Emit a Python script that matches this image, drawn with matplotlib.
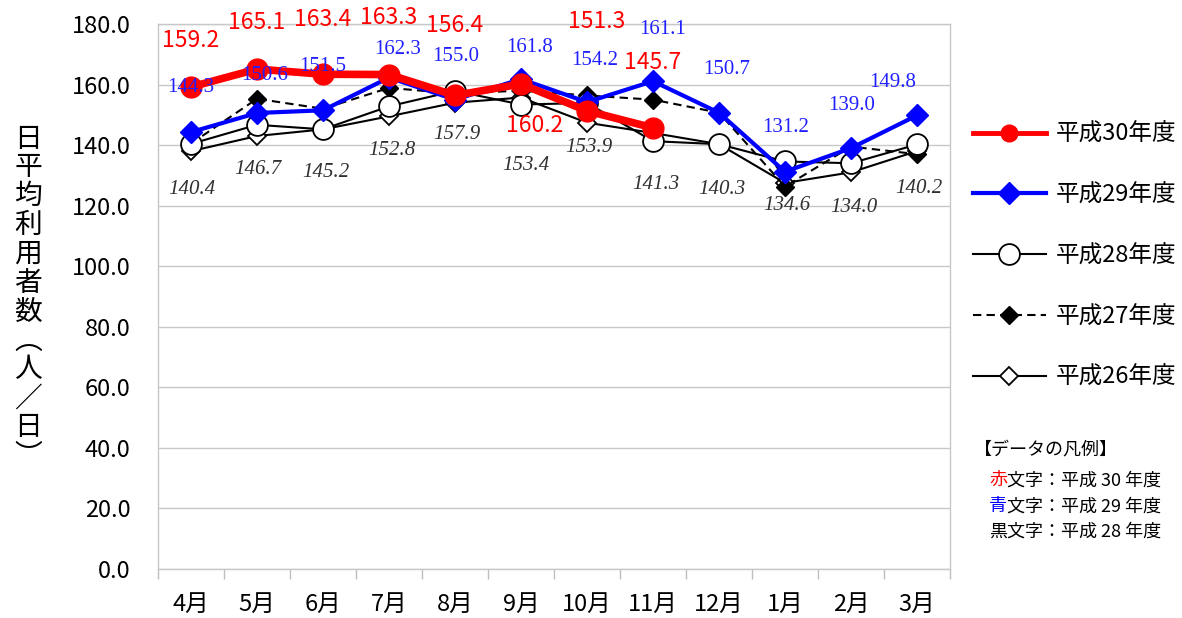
import matplotlib
matplotlib.use("Agg")
import matplotlib.pyplot as plt
from matplotlib.ticker import MultipleLocator, FixedLocator

plt.rcParams["font.family"] = ["Noto Sans CJK JP", "DejaVu Sans"]

months = ["4月", "5月", "6月", "7月", "8月", "9月", "10月", "11月", "12月", "1月", "2月", "3月"]
h30 = [159.2, 165.1, 163.4, 163.3, 156.4, 160.2, 151.3, 145.7]
h29 = [144.3, 150.6, 151.5, 162.3, 155.0, 161.8, 154.2, 161.1, 150.7, 131.2, 139.0, 149.8]
h28 = [140.4, 146.7, 145.2, 152.8, 157.9, 153.4, 153.9, 141.3, 140.3, 134.6, 134.0, 140.2]
h27 = [140.5, 155.3, 152.0, 158.9, 157.0, 158.0, 156.4, 155.0, 150.7, 126.3, 139.5, 137.0]
h26 = [138.0, 143.0, 145.2, 149.5, 154.0, 155.7, 147.4, 144.0, 140.3, 127.5, 131.0, 138.0]

# label offsets in pixels (dx, dy)
red_off = [(0, 46), (0, 47), (0, 55), (0, 57), (0, 70), (14, -42), (10, 89), (0, 65)]
blue_off = [(0, 45), (8, 37), (0, 44), (9, 28), (1, 43), (9, 32), (8, 42), (10, 52),
            (8, 43), (1, 44), (1, 43), (-24, 33)]
black_off = [(1, -46), (1, -45), (3, -43), (3, -44), (2, -44), (5, -61), (2, -44),
             (3, -43), (3, -45), (2, -44), (3, -44), (2, -44)]

fig = plt.figure(figsize=(11.82, 6.18), dpi=100)
ax = fig.add_axes([0.1337, 0.0793, 0.67, 0.8819])

x = list(range(len(months)))

l26, = ax.plot(x, h26, color="black", lw=1.5, marker="D", ms=9, mfc="white",
               mec="black", mew=1.3, zorder=2, label="平成26年度")
l27, = ax.plot(x, h27, color="black", lw=1.5, ls=(0, (4, 2.5)), marker="D", ms=9,
               mfc="black", mec="black", zorder=3, label="平成27年度")
l28, = ax.plot(x, h28, color="black", lw=1.5, marker="o", ms=15, mfc="white",
               mec="black", mew=1.3, zorder=4, label="平成28年度")
l29, = ax.plot(x, h29, color="#0000ff", lw=3, marker="D", ms=11, mfc="#0000ff",
               mec="#0000ff", zorder=5, label="平成29年度")
l30, = ax.plot(x[:len(h30)], h30, color="#ff0000", lw=5.5, marker="o", ms=15,
               mfc="#ff0000", mec="#ff0000", zorder=6, label="平成30年度")

for i, v in enumerate(h30):
    ax.annotate(f"{v:.1f}", (i, v), xytext=red_off[i], textcoords="offset pixels",
                ha="center", va="center", color="#ff0000", fontsize=16.5, zorder=10)
for i, v in enumerate(h29):
    ax.annotate(f"{v:.1f}", (i, v), xytext=blue_off[i], textcoords="offset pixels",
                ha="center", va="center", color="#2020ff", fontsize=15,
                family="Liberation Serif", zorder=10)
for i, v in enumerate(h28):
    ax.annotate(f"{v:.1f}", (i, v), xytext=black_off[i], textcoords="offset pixels",
                ha="center", va="center", color="#303030", fontsize=15,
                family="Liberation Serif", style="italic", zorder=10)

ax.set_xlim(-0.5, 11.5)
ax.set_ylim(0, 180)
ax.yaxis.set_major_locator(MultipleLocator(20))
ax.set_yticklabels([f"{t:.1f}" for t in ax.get_yticks()])
ax.set_xticks(x)
ax.set_xticklabels(months)
ax.xaxis.set_minor_locator(FixedLocator([i - 0.5 for i in range(13)]))
ax.tick_params(axis="y", length=0, pad=20, labelsize=17)
ax.tick_params(axis="x", which="major", length=0, pad=17, labelsize=17)
ax.tick_params(axis="x", which="minor", length=7, color="#bfbfbf", width=1)
ax.grid(axis="y", color="#c8c8c8", lw=1)
ax.set_axisbelow(True)
for s in ax.spines.values():
    s.set_color("#c8c8c8")
    s.set_linewidth(1)

fig.text(0.024, 0.519, "\n".join("日平均利用者数︵人／日︶"), fontsize=20,
         ha="center", va="center", linespacing=0.95)

leg = fig.legend(handles=[l30, l29, l28, l27, l26], loc="upper left",
                 bbox_to_anchor=(0.823, 0.801), frameon=False, fontsize=17,
                 handlelength=3.1, labelspacing=1.6, handletextpad=0.4,
                 borderpad=0, borderaxespad=0, numpoints=1)
# thinner red line in the legend, as in the original
leg.legend_handles[0].set_linewidth(3.5)
leg.legend_handles[0].set_markersize(12)

fig.text(0.824, 0.272, "【データの凡例】", fontsize=13, va="center")
notes = [("赤", "#ff0000", "30"), ("青", "#0000ff", "29"), ("黒", "black", "28")]
for k, (c, col, yr) in enumerate(notes):
    t = fig.text(0.837, 0.223 - k * 0.042, c, fontsize=13, color=col, va="center")
    ax.annotate(f"文字：平成 {yr} 年度", xy=(1, 0.5), xycoords=t, va="center",
                ha="left", fontsize=13, color="black", annotation_clip=False)

fig.savefig("out.png", dpi=100)
